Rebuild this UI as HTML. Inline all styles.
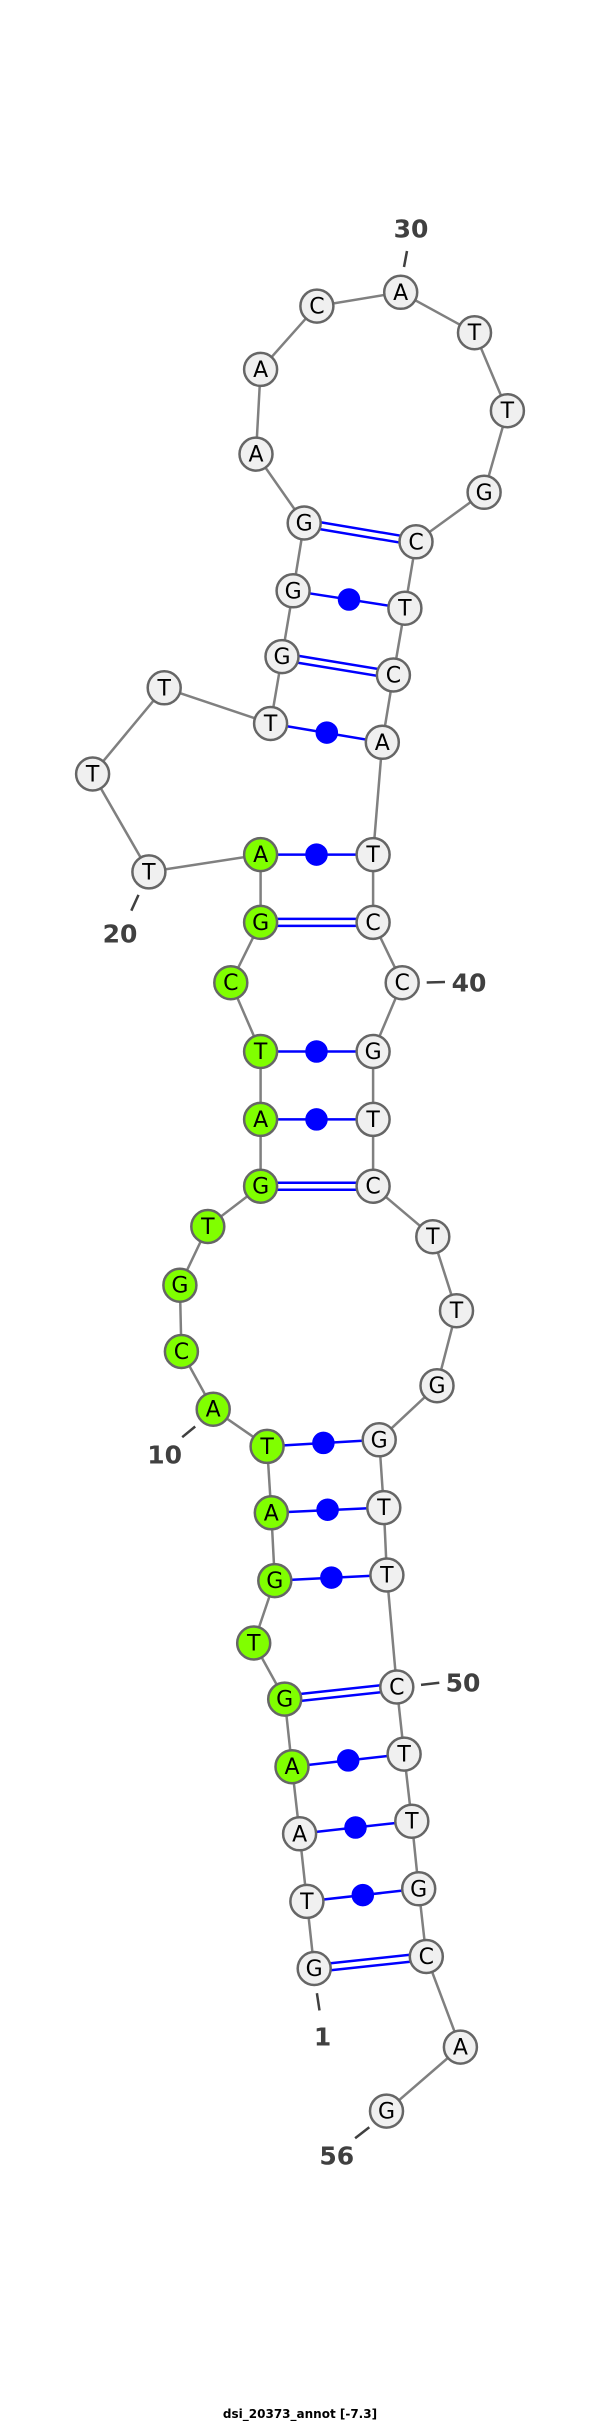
<!DOCTYPE html>
<html><head><meta charset="utf-8"><style>
html,body{margin:0;padding:0;background:#fff;}
svg{display:block;}
.n{font-family:"DejaVu Sans","Liberation Sans",sans-serif;font-size:22px;fill:#000;text-anchor:middle;dominant-baseline:central;}
.l{font-family:"DejaVu Sans","Liberation Sans",sans-serif;font-size:25px;font-weight:bold;fill:#404040;text-anchor:middle;dominant-baseline:central;}
</style></head><body>
<svg width="600" height="2422" viewBox="0 0 600 2422" xmlns="http://www.w3.org/2000/svg">
<g id="bb" stroke="#808080" stroke-width="2.5" fill="none">
<polyline points="314.2,1968.5 306.9,1901.4 299.6,1833.8 292,1766.7 284.7,1699.1 253.7,1643 274.8,1580.6 271.3,1512.8 267.1,1446.4 213.2,1409.2 181.4,1351.5 179.9,1285.2 207.8,1226.5 260.6,1186.2 260.6,1119.4 260.6,1051.5 230.8,982.7 260.6,922.4 260.6,854.6 148.9,871.9 92.6,774 164.2,687.8 270.6,723.5 282,656.6 293.1,590.8 304.2,523 256,454.1 260.6,369.4 316.9,306.1 400.7,292.3 474.5,332.7 507.4,410.7 484.1,492.3 416,541.8 404.9,608.2 393.4,675 382.3,742.3 373.1,854.6 373.1,922.4 402.2,982.7 373.1,1051.5 373.1,1119.4 373.1,1186.2 432.8,1236.7 456.5,1310.7 437,1385.7 379.2,1439.8 383.8,1507.6 386.9,1575 396.8,1687 404.1,1754.1 411.8,1821.2 418.7,1888.8 426.3,1956.5 460.4,2047.1 386.5,2111.1"/>
</g>
<g stroke="#0000ff" stroke-width="2.5" fill="#0000ff">
<!-- double pairs -->
<line x1="314.2" y1="1972" x2="426.3" y2="1960"/><line x1="314.2" y1="1965" x2="426.3" y2="1953"/>
<line x1="284.7" y1="1702.6" x2="396.8" y2="1690.5"/><line x1="284.7" y1="1695.6" x2="396.8" y2="1683.5"/>
<line x1="260.6" y1="1189.7" x2="373.1" y2="1189.7"/><line x1="260.6" y1="1182.7" x2="373.1" y2="1182.7"/>
<line x1="260.6" y1="925.9" x2="373.1" y2="925.9"/><line x1="260.6" y1="918.9" x2="373.1" y2="918.9"/>
<line x1="282" y1="660.1" x2="393.4" y2="678.5"/><line x1="282" y1="653.1" x2="393.4" y2="671.5"/>
<line x1="304.2" y1="526.5" x2="416" y2="545.3"/><line x1="304.2" y1="519.5" x2="416" y2="538.3"/>
<!-- dot pairs -->
<line x1="306.9" y1="1901.4" x2="418.7" y2="1888.8"/><circle cx="362.8" cy="1895.1" r="10"/>
<line x1="299.6" y1="1833.8" x2="411.8" y2="1821.2"/><circle cx="355.5" cy="1827.5" r="10"/>
<line x1="292" y1="1766.7" x2="404.1" y2="1754.1"/><circle cx="348.2" cy="1760.4" r="10"/>
<line x1="274.8" y1="1580.6" x2="386.9" y2="1575"/><circle cx="331.4" cy="1577.6" r="10"/>
<line x1="271.3" y1="1512.8" x2="383.8" y2="1507.6"/><circle cx="327.6" cy="1509.7" r="10"/>
<line x1="267.1" y1="1446.4" x2="379.2" y2="1439.8"/><circle cx="323.4" cy="1442.9" r="10"/>
<line x1="260.6" y1="1119.4" x2="373.1" y2="1119.4"/><circle cx="316.5" cy="1119.4" r="10"/>
<line x1="260.6" y1="1051.5" x2="373.1" y2="1051.5"/><circle cx="316.5" cy="1051.5" r="10"/>
<line x1="260.6" y1="854.6" x2="373.1" y2="854.6"/><circle cx="316.5" cy="854.6" r="10"/>
<line x1="270.6" y1="723.5" x2="382.3" y2="742.3"/><circle cx="326.8" cy="732.6" r="10"/>
<line x1="293.1" y1="590.8" x2="404.9" y2="608.2"/><circle cx="349" cy="599.5" r="10"/>
</g>
<g stroke="#404040" stroke-width="2.5">
<line x1="407" y1="251" x2="404" y2="267"/>
<line x1="138.5" y1="894.9" x2="131.3" y2="910.7"/>
<line x1="426.7" y1="982.5" x2="445" y2="982"/>
<line x1="182.2" y1="1437.2" x2="195.2" y2="1426.5"/>
<line x1="421" y1="1684.9" x2="439.3" y2="1682.8"/>
<line x1="316.9" y1="1993.2" x2="319.5" y2="2010.4"/>
<line x1="369.3" y1="2127.3" x2="355.1" y2="2138.3"/>
</g>
<g class="l">
<text x="411" y="229">30</text>
<text x="120" y="934">20</text>
<text x="469" y="983">40</text>
<text x="164.6" y="1455">10</text>
<text x="463" y="1683">50</text>
<text x="322.6" y="2037">1</text>
<text x="336.8" y="2156">56</text>
</g>
<g stroke="#666" stroke-width="2.5">
<g fill="#f0f0f0">
<circle cx="314.2" cy="1968.5" r="16.5"/><circle cx="306.9" cy="1901.4" r="16.5"/><circle cx="299.6" cy="1833.8" r="16.5"/>
<circle cx="148.9" cy="871.9" r="16.5"/><circle cx="92.6" cy="774" r="16.5"/><circle cx="164.2" cy="687.8" r="16.5"/>
<circle cx="270.6" cy="723.5" r="16.5"/><circle cx="282" cy="656.6" r="16.5"/><circle cx="293.1" cy="590.8" r="16.5"/>
<circle cx="304.2" cy="523" r="16.5"/><circle cx="256" cy="454.1" r="16.5"/><circle cx="260.6" cy="369.4" r="16.5"/>
<circle cx="316.9" cy="306.1" r="16.5"/><circle cx="400.7" cy="292.3" r="16.5"/><circle cx="474.5" cy="332.7" r="16.5"/>
<circle cx="507.4" cy="410.7" r="16.5"/><circle cx="484.1" cy="492.3" r="16.5"/><circle cx="416" cy="541.8" r="16.5"/>
<circle cx="404.9" cy="608.2" r="16.5"/><circle cx="393.4" cy="675" r="16.5"/><circle cx="382.3" cy="742.3" r="16.5"/>
<circle cx="373.1" cy="854.6" r="16.5"/><circle cx="373.1" cy="922.4" r="16.5"/><circle cx="402.2" cy="982.7" r="16.5"/>
<circle cx="373.1" cy="1051.5" r="16.5"/><circle cx="373.1" cy="1119.4" r="16.5"/><circle cx="373.1" cy="1186.2" r="16.5"/>
<circle cx="432.8" cy="1236.7" r="16.5"/><circle cx="456.5" cy="1310.7" r="16.5"/><circle cx="437" cy="1385.7" r="16.5"/>
<circle cx="379.2" cy="1439.8" r="16.5"/><circle cx="383.8" cy="1507.6" r="16.5"/><circle cx="386.9" cy="1575" r="16.5"/>
<circle cx="396.8" cy="1687" r="16.5"/><circle cx="404.1" cy="1754.1" r="16.5"/><circle cx="411.8" cy="1821.2" r="16.5"/>
<circle cx="418.7" cy="1888.8" r="16.5"/><circle cx="426.3" cy="1956.5" r="16.5"/><circle cx="460.4" cy="2047.1" r="16.5"/>
<circle cx="386.5" cy="2111.1" r="16.5"/>
</g>
<g fill="#80ff00">
<circle cx="292" cy="1766.7" r="16.5"/><circle cx="284.7" cy="1699.1" r="16.5"/><circle cx="253.7" cy="1643" r="16.5"/>
<circle cx="274.8" cy="1580.6" r="16.5"/><circle cx="271.3" cy="1512.8" r="16.5"/><circle cx="267.1" cy="1446.4" r="16.5"/>
<circle cx="213.2" cy="1409.2" r="16.5"/><circle cx="181.4" cy="1351.5" r="16.5"/><circle cx="179.9" cy="1285.2" r="16.5"/>
<circle cx="207.8" cy="1226.5" r="16.5"/><circle cx="260.6" cy="1186.2" r="16.5"/><circle cx="260.6" cy="1119.4" r="16.5"/>
<circle cx="260.6" cy="1051.5" r="16.5"/><circle cx="230.8" cy="982.7" r="16.5"/><circle cx="260.6" cy="922.4" r="16.5"/>
<circle cx="260.6" cy="854.6" r="16.5"/>
</g>
</g>
<g class="n">
<text x="314.2" y="1969.5">G</text><text x="306.9" y="1902.4">T</text><text x="299.6" y="1834.8">A</text>
<text x="292" y="1767.7">A</text><text x="284.7" y="1700.1">G</text><text x="253.7" y="1644">T</text>
<text x="274.8" y="1581.6">G</text><text x="271.3" y="1513.8">A</text><text x="267.1" y="1447.4">T</text>
<text x="213.2" y="1410.2">A</text><text x="181.4" y="1352.5">C</text><text x="179.9" y="1286.2">G</text>
<text x="207.8" y="1227.5">T</text><text x="260.6" y="1187.2">G</text><text x="260.6" y="1120.4">A</text>
<text x="260.6" y="1052.5">T</text><text x="230.8" y="983.7">C</text><text x="260.6" y="923.4">G</text>
<text x="260.6" y="855.6">A</text><text x="148.9" y="872.9">T</text><text x="92.6" y="775">T</text>
<text x="164.2" y="688.8">T</text><text x="270.6" y="724.5">T</text><text x="282" y="657.6">G</text>
<text x="293.1" y="591.8">G</text><text x="304.2" y="524">G</text><text x="256" y="455.1">A</text>
<text x="260.6" y="370.4">A</text><text x="316.9" y="307.1">C</text><text x="400.7" y="293.3">A</text>
<text x="474.5" y="333.7">T</text><text x="507.4" y="411.7">T</text><text x="484.1" y="493.3">G</text>
<text x="416" y="542.8">C</text><text x="404.9" y="609.2">T</text><text x="393.4" y="676">C</text>
<text x="382.3" y="743.3">A</text><text x="373.1" y="855.6">T</text><text x="373.1" y="923.4">C</text>
<text x="402.2" y="983.7">C</text><text x="373.1" y="1052.5">G</text><text x="373.1" y="1120.4">T</text>
<text x="373.1" y="1187.2">C</text><text x="432.8" y="1237.7">T</text><text x="456.5" y="1311.7">T</text>
<text x="437" y="1386.7">G</text><text x="379.2" y="1440.8">G</text><text x="383.8" y="1508.6">T</text>
<text x="386.9" y="1576">T</text><text x="396.8" y="1688">C</text><text x="404.1" y="1755.1">T</text>
<text x="411.8" y="1822.2">T</text><text x="418.7" y="1889.8">G</text><text x="426.3" y="1957.5">C</text>
<text x="460.4" y="2048.1">A</text><text x="386.5" y="2112.1">G</text>
</g>
<text x="300" y="2414" font-family="'DejaVu Sans','Liberation Sans',sans-serif" font-size="12" font-weight="bold" fill="#000" text-anchor="middle" dominant-baseline="central">dsi_20373_annot [-7.3]</text>
</svg>
</body></html>
